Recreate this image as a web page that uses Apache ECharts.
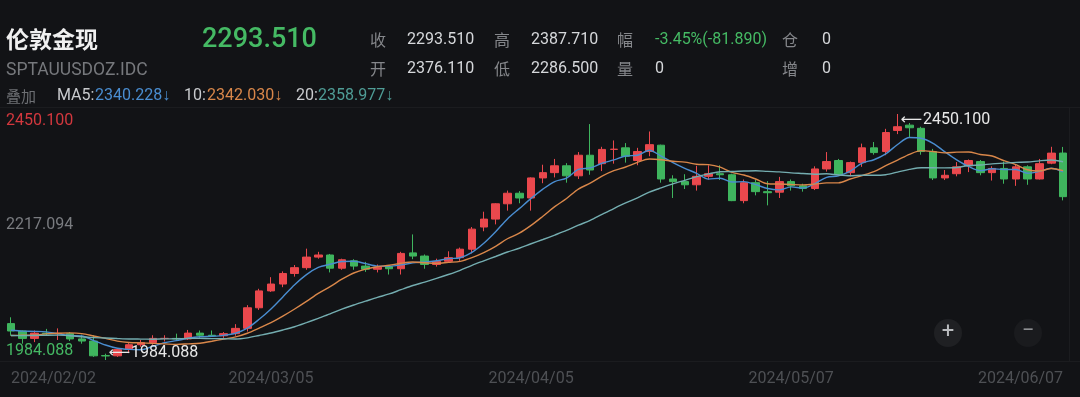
<!DOCTYPE html>
<html><head><meta charset="utf-8">
<script src="https://cdn.jsdelivr.net/npm/echarts@6/dist/echarts.min.js"></script>
<style>html,body{margin:0;padding:0;background:#121316;}#c{width:1080px;height:397px;}</style>
</head><body><div id="c"></div>
<script>
const dates = ['2024/02/02','2024/02/05','2024/02/06','2024/02/07','2024/02/08','2024/02/09','2024/02/12','2024/02/13','2024/02/14','2024/02/15','2024/02/16','2024/02/19','2024/02/20','2024/02/21','2024/02/22','2024/02/23','2024/02/26','2024/02/27','2024/02/28','2024/02/29',
'2024/03/01','2024/03/04','2024/03/05','2024/03/06','2024/03/07','2024/03/08','2024/03/11','2024/03/12','2024/03/13','2024/03/14','2024/03/15','2024/03/18','2024/03/19','2024/03/20','2024/03/21','2024/03/22','2024/03/25','2024/03/26','2024/03/27','2024/03/28',
'2024/04/01','2024/04/02','2024/04/03','2024/04/04','2024/04/05','2024/04/08','2024/04/09','2024/04/10','2024/04/11','2024/04/12','2024/04/15','2024/04/16','2024/04/17','2024/04/18','2024/04/19','2024/04/22','2024/04/23','2024/04/24','2024/04/25','2024/04/26','2024/04/29','2024/04/30',
'2024/05/01','2024/05/02','2024/05/03','2024/05/06','2024/05/07','2024/05/08','2024/05/09','2024/05/10','2024/05/13','2024/05/14','2024/05/15','2024/05/16','2024/05/17','2024/05/20','2024/05/21','2024/05/22','2024/05/23','2024/05/24','2024/05/27','2024/05/28','2024/05/29','2024/05/30','2024/05/31',
'2024/06/03','2024/06/04','2024/06/05','2024/06/06','2024/06/07'];

const openP = [2053,2039,2025,2035,2034,2034,2024,2020,1992.4,1992,2004,2013,2017,2025,2025,2024,2035,2031,2030,2034,
2044,2083,2115,2128,2148,2159,2179,2183,2158,2172,2162,2156,2161,2157,2187,2181,2165,2171,2178,2194,
2236,2251,2280,2300,2291,2329,2339,2352,2333,2372,2356,2383,2386,2362,2379,2391,2327,2322,2316,2332,2337,2335,
2286,2320,2303,2302,2322,2314,2309,2346,2362,2339,2358,2386,2379,2419,2429,2423,2379,2329,2337,2352,2360,2339,2347,
2327,2350,2327,2357,2376.11];

const closeP = [2039,2025,2035,2034,2034.5,2024,2020,1992,1991.8,2004,2013,2017,2025,2025,2024,2035,2031,2030,2034,2044,
2083,2115,2128,2148,2159,2179,2183,2158,2174,2162,2156,2160,2157,2186,2181,2165,2171,2178,2194,2232,
2251,2280,2300,2291,2329,2339,2352,2333,2372,2344,2383,2383.5,2370,2379,2392,2327,2322,2316,2332,2337,2335,2286,
2320,2303,2301,2322,2314,2309,2346,2360,2336,2358,2386,2377,2415,2426,2424,2379,2329,2334,2350,2362,2339,2347,2327,
2350,2327,2356,2376,2293.51];

const lowP = [2030,2015,2018,2030,2022,2020,2015,1990,1984.088,1990,1997,2009,2013,2019,2020,2022,2026,2028,2026,2030,
2038,2079,2113,2122,2142,2155,2176,2150,2155,2155,2151,2150,2146,2146,2175,2157,2161,2169,2172,2186,
2228,2241,2267,2281,2267,2319,2330,2320,2327,2335,2342,2356,2358,2353,2370,2320,2291,2308,2305,2326,2325,2285,
2281,2296,2277,2291,2305,2303,2306,2341,2334,2332,2350,2373,2372,2412,2406,2373,2325,2325,2332,2340,2334,2324,2318,
2314,2316,2326,2355,2286.5];

const highP = [2065,2040,2040,2043,2044,2037,2032,2031,1996,2005,2016,2022,2031,2031,2034,2041,2040,2040,2037,2052,
2088,2119,2141,2152,2164,2195,2189,2185,2176,2175,2170,2165,2163,2189,2222,2184,2176,2190,2197,2236,
2265,2281,2305,2304,2330,2354,2365,2357,2378,2431,2388,2400,2395,2386,2417,2392,2334,2336,2352,2353,2353,2337,
2326,2326,2323,2331,2326,2318,2351,2378,2365,2360,2394,2397,2422,2450.1,2433,2426,2384,2344,2359,2364,2363,2351,2360,
2354,2353,2365,2388,2387.71];

// closes of the 19 sessions before the first candle (used only to warm up the moving averages)
const priorCloses = [2028,2030,2025,2029,2049,2055,2028,2006,2023,2029,2022,2029,2014,2021,2018,2033,2037,2039,2054];

const xTickLabels = ['2024/02/02','2024/03/05','2024/04/05','2024/05/07','2024/06/07'];
const yTicks = [1984.088, 2217.094, 2450.1];
const yTickLabels = ['1984.088','2217.094','2450.100'];

const RED = '#ea484d', GREEN = '#3fb55e';
const C_MA5 = '#4a8dd0', C_MA10 = '#d9874a', C_MA20 = '#74adb0';

const allCloses = priorCloses.concat(closeP);
function ma(n){
  const out = [];
  for (let i = 0; i < closeP.length; i++){
    const end = i + priorCloses.length;
    let s = 0, k = 0;
    for (let j = end - n + 1; j <= end; j++){ if (j >= 0){ s += allCloses[j]; k++; } }
    out.push(+(s / k).toFixed(3));
  }
  return out;
}
const candles = dates.map((d,i)=>[openP[i], closeP[i], lowP[i], highP[i]]);

const NUM = 'Roboto, "Noto Sans", sans-serif';
const CJK = '"Noto Sans CJK SC", sans-serif';
function t(x, y, text, fill, size, family, weight, align){
  return {type:'text', x:x, y:y, silent:true, style:{text:text, fill:fill, font:(weight||'normal')+' '+size+'px '+family, verticalAlign:'middle', align:align||'left'}};
}

const graphics = [
  {type:'rect', shape:{x:0,y:107,width:1080,height:1}, style:{fill:'#1b1c1f'}, silent:true},
  {type:'rect', shape:{x:0,y:361,width:1080,height:1}, style:{fill:'#1b1c1f'}, silent:true},
  {type:'rect', shape:{x:1069,y:107,width:1,height:255}, style:{fill:'#1b1c1f'}, silent:true},
  t(6, 39, '伦敦金现', '#f0f0f0', 23, CJK, 'bold'),
  t(202, 40, '2293.510', '#45ba64', 27, NUM, '500'),
  t(6, 71, 'SPTAUUSDOZ.IDC', '#76787c', 17.5, NUM),
  t(370, 40, '收', '#85878b', 16, CJK), t(407, 40, '2293.510', '#d6d8db', 16, NUM),
  t(494, 40, '高', '#85878b', 16, CJK), t(531, 40, '2387.710', '#d6d8db', 16, NUM),
  t(617, 40, '幅', '#85878b', 16, CJK), t(655, 40, '-3.45%(-81.890)', '#45ba64', 16, NUM),
  t(782, 40, '仓', '#85878b', 16, CJK), t(822, 40, '0', '#d6d8db', 16, NUM),
  t(370, 69, '开', '#85878b', 16, CJK), t(407, 69, '2376.110', '#d6d8db', 16, NUM),
  t(494, 69, '低', '#85878b', 16, CJK), t(531, 69, '2286.500', '#d6d8db', 16, NUM),
  t(617, 69, '量', '#85878b', 16, CJK), t(655, 69, '0', '#d6d8db', 16, NUM),
  t(782, 69, '增', '#85878b', 16, CJK), t(822, 69, '0', '#d6d8db', 16, NUM),
  t(6, 96, '叠加', '#6e7074', 15, CJK),
  t(57, 96, 'MA5:', '#c9cbce', 16, NUM), t(95, 96, '2340.228↓', C_MA5, 16, NUM),
  t(184, 96, '10:', '#c9cbce', 16, NUM), t(207, 96, '2342.030↓', C_MA10, 16, NUM),
  t(296, 96, '20:', '#c9cbce', 16, NUM), t(318, 96, '2358.977↓', '#4f9d96', 16, NUM),
  {type:'circle', shape:{cx:948, cy:333, r:14}, style:{fill:'#1f2023'}, silent:true},
  {type:'circle', shape:{cx:1028, cy:333, r:14}, style:{fill:'#1a1b1e'}, silent:true},
  t(948, 332, '+', '#b9bbbe', 22, NUM, 'normal', 'center'),
  t(1028, 331, '−', '#8d8f92', 22, NUM, 'normal', 'center')
];

const chart = echarts.init(document.getElementById('c'), null, {renderer:'canvas'});
chart.setOption({
  backgroundColor:'#121316',
  animation:false,
  grid:{left:5, right:11, top:114, bottom:37},
  xAxis:{
    type:'category', data:dates, boundaryGap:true,
    axisLine:{show:false}, axisTick:{show:false}, splitLine:{show:false},
    axisLabel:{
      interval:function(i, v){ return xTickLabels.indexOf(v) >= 0; },
      color:'#4e5054', fontSize:16, fontFamily:'Roboto', margin:11,
      alignMinLabel:'left', alignMaxLabel:'right'
    }
  },
  yAxis:{
    type:'value', min:yTicks[0], max:yTicks[2], scale:true,
    axisLine:{show:false}, axisTick:{show:false}, splitLine:{show:false},
    axisLabel:{
      inside:true, margin:1, customValues:yTicks, showMinLabel:true, showMaxLabel:true,
      verticalAlign:'middle', align:'left',
      formatter:function(v){
        let k = 0, best = 1e9;
        yTicks.forEach((tv, i)=>{ const d = Math.abs(tv - v); if (d < best){ best = d; k = i; } });
        return ['{b|','{m|','{t|'][k] + yTickLabels[k] + '}';
      },
      rich:{
        t:{color:'#d3383e', fontSize:16, fontFamily:'Roboto', padding:[14,0,0,0]},
        m:{color:'#7a7c80', fontSize:16, fontFamily:'Roboto', padding:[0,0,24,0]},
        b:{color:'#45ba64', fontSize:16, fontFamily:'Roboto', padding:[0,0,18,0]}
      }
    }
  },
  graphic:graphics,
  series:[
    {
      type:'candlestick', data:candles, barWidth:8,
      itemStyle:{color:RED, color0:GREEN, borderColor:RED, borderColor0:GREEN, borderWidth:1},
      markPoint:{
        symbol:'circle', symbolSize:0, animation:false,
        label:{show:true, position:'right', distance:3, color:'#e8e8e8', fontSize:16, fontFamily:'Roboto',
          formatter:function(p){ return '{a|⟵}{v|' + Number(p.value).toFixed(3) + '}'; },
          rich:{
            a:{fontSize:15, fontFamily:'"DejaVu Sans"', color:'#e8e8e8', padding:[0,1,0,0]},
            v:{fontSize:16, fontFamily:'Roboto', color:'#e8e8e8'}
          }},
        data:[
          {type:'max', valueDim:'highest', label:{offset:[0,6]}},
          {type:'min', valueDim:'lowest', label:{offset:[0,-7]}}
        ]
      }
    },
    {type:'line', data:ma(5), showSymbol:false, symbol:'none', smooth:0.3, lineStyle:{color:C_MA5, width:1.4}, z:3},
    {type:'line', data:ma(10), showSymbol:false, symbol:'none', smooth:0.3, lineStyle:{color:C_MA10, width:1.4}, z:3},
    {type:'line', data:ma(20), showSymbol:false, symbol:'none', smooth:0.3, lineStyle:{color:C_MA20, width:1.4}, z:3}
  ]
});
</script></body></html>
